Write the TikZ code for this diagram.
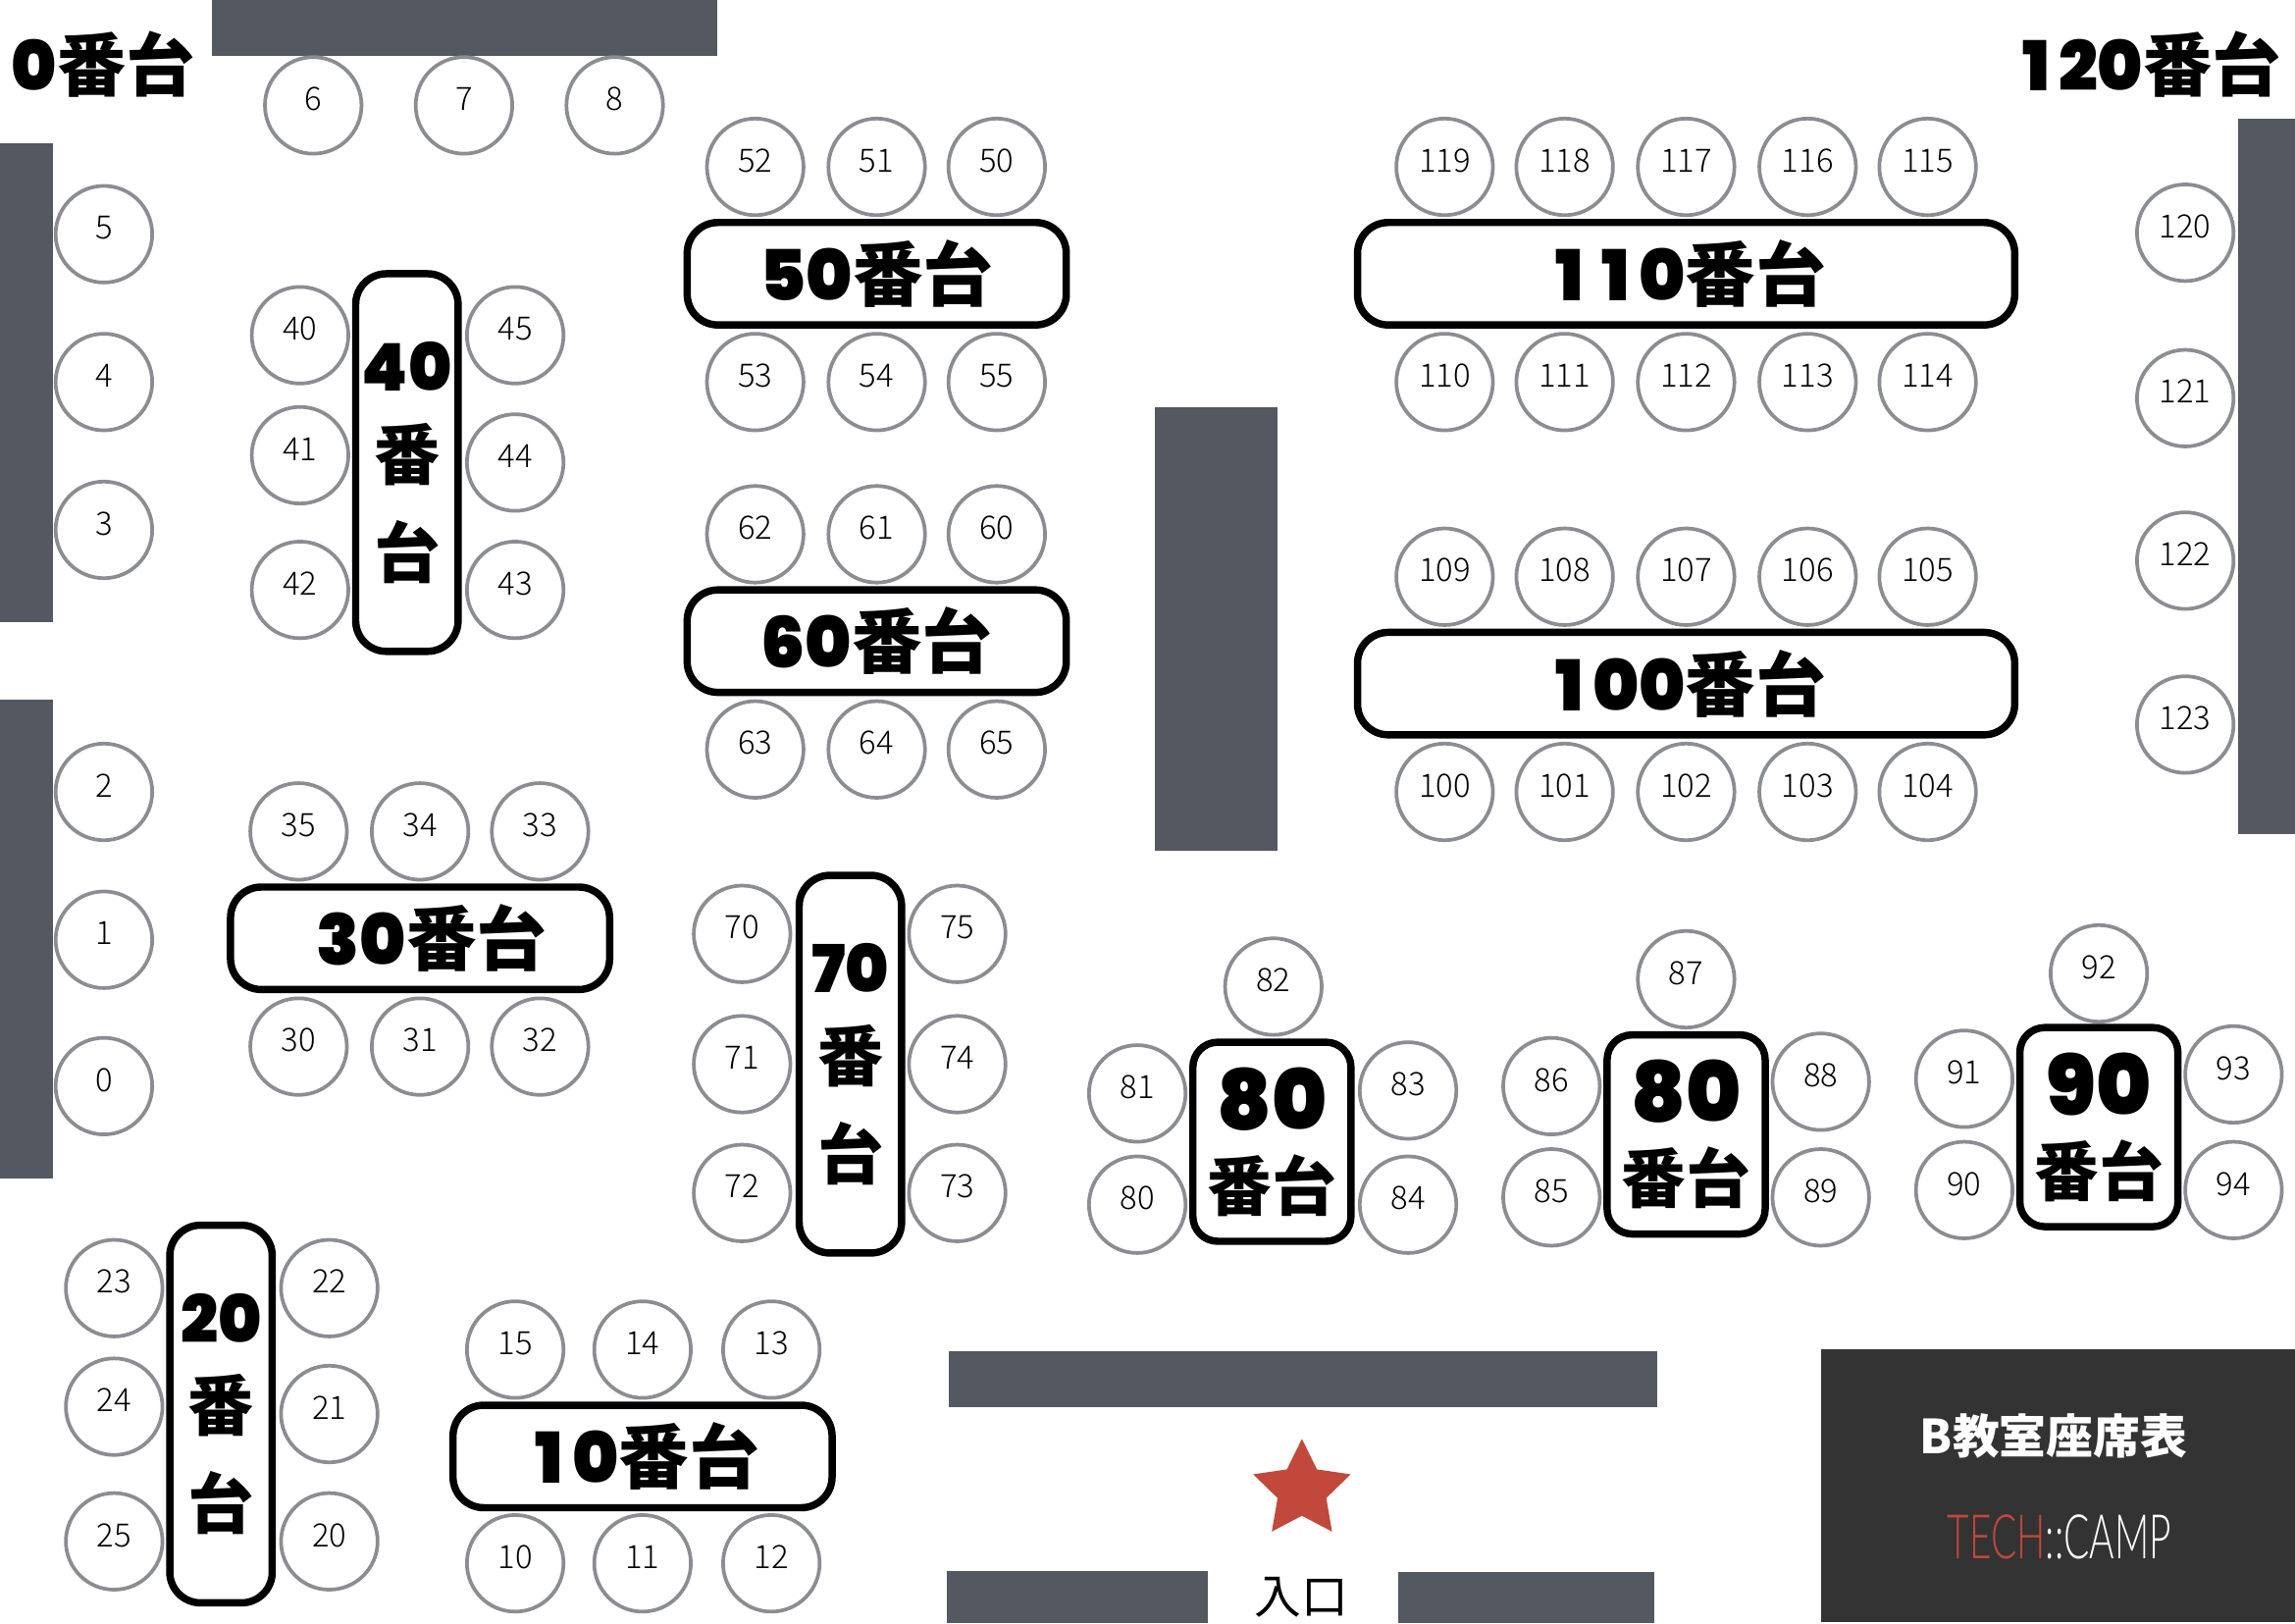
\documentclass[tikz,border=0pt]{standalone}
\usepackage{fontspec}
\usepackage{xcolor}
\usepackage{tikz}
\usetikzlibrary{shapes.geometric}
\setmainfont{Noto Sans CJK JP}
\newfontfamily\digitfont{Poppins SemiBold}
\newfontfamily\seatfont{Noto Sans CJK JP Light}
\newfontfamily\campfont[FakeStretch=0.62]{Lato Light}
\newcommand{\dg}[1]{{\digitfont #1}}
\newcommand{\one}{\makebox[0.66em]{1}}
\newcommand{\tallnum}[1]{\raisebox{-2pt}{\digitfont #1}}
\newcommand{\bignum}[1]{\raisebox{-3pt}{\fontsize{57}{60}\selectfont\digitfont #1}}
\definecolor{wallgray}{HTML}{545860}
\definecolor{seatgray}{HTML}{8A8D92}
\definecolor{infodark}{HTML}{333333}
\definecolor{campred}{HTML}{C1483A}

\begin{document}
\begin{tikzpicture}[x=1pt, y=-1pt,
    wall/.style={fill=wallgray},
    seat/.style={circle, draw=seatgray, line width=2.5pt, fill=white, minimum size=66pt, inner sep=0pt, text height=15pt, text depth=8pt, font=\fontsize{22}{22}\seatfont},
    desk/.style={rectangle, draw=black, line width=5pt, fill=white, rounded corners=21pt, inner sep=0pt, align=center, font=\fontsize{48}{48}\selectfont\bfseries},
    widedesk/.style={desk, minimum width=259pt, minimum height=70pt},
    longdesk/.style={desk, minimum width=449pt, minimum height=70pt},
    talldesk/.style={desk, minimum width=70pt, minimum height=258pt, font=\fontsize{45}{65}\selectfont\bfseries},
    squaredesk/.style={desk, minimum width=108pt, minimum height=136pt, rounded corners=17pt, font=\fontsize{44}{60}\selectfont\bfseries},
    corner/.style={inner sep=0pt, font=\fontsize{47}{47}\selectfont\bfseries}]

    \useasboundingbox (0,0) rectangle (1568,1109);

    \fill[wall] (145,0) rectangle (490,38);
    \fill[wall] (0,98) rectangle (36,425);
    \fill[wall] (0,478) rectangle (36,805);
    \fill[wall] (789,278) rectangle (873,581);
    \fill[wall] (1529,81) rectangle (1568,570);
    \fill[wall] (648,923) rectangle (1132,961);
    \fill[wall] (647,1073) rectangle (825,1109);
    \fill[wall] (955,1074) rectangle (1130,1109);

    \foreach \num/\x/\y in {0/71/742, 1/71/642, 2/71/541, 3/71/362, 4/71/261, 5/71/160,
        6/214/72, 7/317/72, 8/420/72,
        10/352/1068, 11/439/1068, 12/527/1068, 13/527/922, 14/439/922, 15/352/922,
        20/225/1053, 21/225/966, 22/225/880, 23/78/880, 24/78/961, 25/78/1053,
        30/204/715, 31/287/715, 32/369/715, 33/369/568, 34/287/568, 35/204/568,
        40/205/229, 41/205/311, 42/205/403, 43/352/403, 44/352/316, 45/352/229,
        50/681/114, 51/599/114, 52/516/114, 53/516/261, 54/599/261, 55/681/261,
        60/681/365, 61/599/365, 62/516/365, 63/516/512, 64/599/512, 65/681/512,
        70/507/638, 71/507/727, 72/507/815, 73/654/815, 74/654/727, 75/654/638,
        80/777/823, 81/777/747, 82/870/674, 83/962/745, 84/962/823,
        85/1060/818, 86/1060/742, 87/1152/669, 88/1244/739, 89/1244/818,
        90/1342/813, 91/1342/737, 92/1434/665, 93/1526/734, 94/1526/813,
        100/987/541, 101/1069/541, 102/1152/541, 103/1235/541, 104/1317/541,
        105/1317/394, 106/1235/394, 107/1152/394, 108/1069/394, 109/987/394,
        110/987/261, 111/1069/261, 112/1152/261, 113/1235/261, 114/1317/261,
        115/1317/114, 116/1235/114, 117/1152/114, 118/1069/114, 119/987/114,
        120/1493/159, 121/1493/272, 122/1493/383, 123/1493/495}
        \node (seat\num) [seat] at (\x,\y) {\num};

    \node (desk10) [widedesk] at (439,995) {\dg{\one 0}番台};
    \node (desk20) [talldesk] at (151,966) {\tallnum{20}\\[-3pt]番\\[2pt]台};
    \node (desk30) [widedesk] at (287,641) {\hspace*{16pt}\dg{30}番台};
    \node (desk40) [talldesk] at (278,316) {\tallnum{40}\\[-3pt]番\\[2pt]台};
    \node (desk50) [widedesk] at (599,187) {\dg{50}番台};
    \node (desk60) [widedesk] at (599,438) {\dg{60}番台};
    \node (desk70) [talldesk] at (581,727) {\tallnum{70}\\[-3pt]番\\[2pt]台};
    \node (desk80a) [squaredesk] at (869,780) {\bignum{80}\\[-2pt]番台};
    \node (desk80b) [squaredesk] at (1152,775) {\bignum{80}\\[-2pt]番台};
    \node (desk90) [squaredesk] at (1434,770) {\bignum{90}\\[-2pt]番台};
    \node (desk100) [longdesk] at (1152,467) {\raisebox{4pt}{\dg{\one 00}番台}};
    \node (desk110) [longdesk] at (1152,187) {\raisebox{4pt}{\dg{\one\one 0}番台}};

    \node (zero) [corner] at (70.5,44) {\dg{0}番台};
    \node (hundredtwenty) [corner] at (1467,44) {\dg{\one 20}番台};

    \node (star) [star, star points=5, star point ratio=2, fill=campred, minimum size=70pt, inner sep=0pt] at (889.5,1018) {};
    \node (entrance) [inner sep=0pt, font=\fontsize{32}{32}\selectfont] at (889,1091) {入口};

    \node (info) [rectangle, fill=infodark, minimum width=324pt, minimum height=186pt, inner sep=0pt] at (1406,1015) {};
    \node (title) [text=white, inner sep=0pt, font=\fontsize{32}{32}\selectfont\bfseries] at (1403,981) {B教室座席表};
    \node (logo) [inner sep=0pt, font=\fontsize{42}{42}\campfont] at (1407,1050) {\textcolor{campred}{TECH}\textcolor{white}{::CAMP}};

\end{tikzpicture}
\end{document}
